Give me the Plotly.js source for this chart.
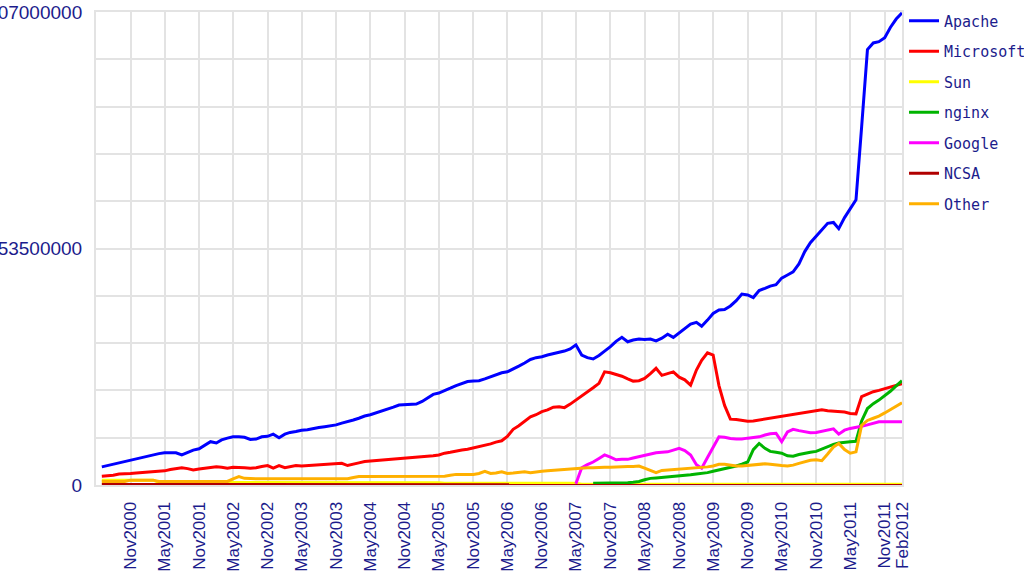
<!DOCTYPE html>
<html>
<head>
<meta charset="utf-8">
<script src="https://cdn.plot.ly/plotly-3.0.1.min.js"></script>
<style>
  html, body { margin: 0; padding: 0; background: #fff; }
  #chart { width: 1024px; height: 576px; }
</style>
</head>
<body>
<div id="chart"></div>
<script>
// Active sites per web server, monthly, June 2000 to February 2012 (millions)
const FIRST_YEAR = 2000, FIRST_MONTH = 6, MONTH_COUNT = 141;
const months = [];
for (let k = 0; k < MONTH_COUNT; k++) {
    const m = FIRST_MONTH - 1 + k;
    const y = FIRST_YEAR + Math.floor(m / 12);
    months.push(y + '-' + String(m % 12 + 1).padStart(2, '0') + '-01');
}

const seriesNames = ['Apache', 'Microsoft', 'Sun', 'nginx', 'Google', 'NCSA', 'Other'];
const seriesColors = ['#0000ff', '#ff0000', '#ffff00', '#00b400', '#ff00ff', '#b00000', '#ffb000'];

const apache = [
    4.1, 4.4, 4.7, 5.0, 5.4, 5.7, 5.9, 6.2, 6.5, 6.8,
    7.1, 7.3, 7.3, 7.3, 6.8, 7.4, 7.9, 8.2, 9.0, 9.8,
    9.5, 10.2, 10.6, 10.9, 10.9, 10.8, 10.3, 10.4, 10.9, 11.0,
    11.5, 10.7, 11.5, 11.9, 12.1, 12.4, 12.5, 12.8, 13.0, 13.2,
    13.4, 13.6, 14.0, 14.3, 14.7, 15.1, 15.6, 15.9, 16.3, 16.7,
    17.2, 17.6, 18.1, 18.2, 18.3, 18.3, 18.9, 19.6, 20.5, 20.8,
    21.3, 21.9, 22.5, 23.0, 23.4, 23.5, 23.6, 24.0, 24.5, 24.9,
    25.4, 25.6, 26.2, 26.9, 27.6, 28.4, 28.8, 29.0, 29.4, 29.7,
    30.0, 30.3, 30.8, 31.7, 29.4, 28.8, 28.5, 29.3, 30.3, 31.3,
    32.5, 33.4, 32.4, 32.8, 33.0, 32.9, 33.0, 32.6, 33.2, 34.1,
    33.4, 34.4, 35.4, 36.4, 36.8, 35.9, 37.3, 38.8, 39.6, 39.7,
    40.5, 41.7, 43.2, 43.0, 42.4, 44.0, 44.5, 45.0, 45.3, 46.8,
    47.5, 48.2, 50.0, 52.8, 54.8, 56.3, 57.8, 59.2, 59.4, 58.0,
    60.5, 62.4, 64.5, 81.0, 98.5, 100.0, 100.3, 101.2, 103.5, 105.4, 106.8
];

const microsoft = [
    2.0, 2.1, 2.2, 2.5, 2.5, 2.6, 2.7, 2.8, 2.9, 3.0,
    3.1, 3.2, 3.5, 3.7, 3.9, 3.7, 3.4, 3.6, 3.8, 4.0,
    4.1, 4.0, 3.8, 4.0, 4.0, 3.9, 3.8, 3.9, 4.2, 4.4,
    3.8, 4.4, 3.9, 4.1, 4.4, 4.3, 4.4, 4.5, 4.6, 4.7,
    4.8, 4.9, 4.9, 4.4, 4.8, 5.0, 5.3, 5.4, 5.5, 5.6,
    5.8, 5.9, 6.0, 6.1, 6.1, 6.2, 6.3, 6.4, 6.6, 6.8,
    7.2, 7.4, 7.7, 7.9, 8.1, 8.4, 8.6, 8.9, 9.3, 9.7,
    10.0, 11.0, 12.6, 13.4, 14.5, 15.4, 15.9, 16.6, 17.0, 17.6,
    17.7, 17.5, 18.3, 19.2, 20.0, 21.1, 22.0, 23.0, 25.6, 25.4,
    25.0, 24.6, 24.0, 23.5, 23.6, 24.1, 25.2, 26.4, 24.8, 25.2,
    25.6, 24.4, 23.8, 22.6, 26.0, 28.2, 29.9, 29.4, 22.5, 18.0,
    14.9, 14.8, 14.6, 14.4, 14.5, 14.7, 15.0, 15.1, 15.3, 15.6,
    15.7, 15.9, 16.1, 16.3, 16.6, 16.8, 17.0, 16.8, 16.7, 16.6,
    16.5, 16.2, 16.1, 20.0, 20.6, 21.1, 21.4, 21.8, 22.2, 22.6, 22.9
];

const sun = [
    1.1, 1.1, 1.1, 1.1, 1.1, 1.1, 1.1, 1.1, 1.1, 1.1,
    0.6, 0.6, 0.6, 0.6, 0.6, 0.6, 0.6, 0.6, 0.6, 0.6,
    0.6, 0.6, 0.6, 0.6, 0.6, 0.6, 0.6, 0.6, 0.6, 0.6,
    0.5, 0.5, 0.5, 0.5, 0.5, 0.5, 0.5, 0.5, 0.5, 0.5,
    0.5, 0.5, 0.5, 0.5, 0.5, 0.5, 0.5, 0.5, 0.5, 0.5,
    0.5, 0.5, 0.5, 0.5, 0.5, 0.5, 0.5, 0.5, 0.5, 0.5,
    0.4, 0.4, 0.4, 0.4, 0.4, 0.4, 0.4, 0.4, 0.4, 0.4,
    0.4, 0.4, 0.4, 0.4, 0.4, 0.4, 0.4, 0.4, 0.4, 0.4,
    0.4, 0.4, 0.4, 0.4, 0.15, 0.15, 0.15, 0.15, 0.15, 0.15,
    0.15, 0.15, 0.15, 0.15, 0.15, 0.15, 0.15, 0.15, 0.15, 0.15,
    0.15, 0.15, 0.15, 0.15, 0.15, 0.15, 0.15, 0.15, 0.15, 0.15,
    0.15, 0.15, 0.15, 0.15, 0.15, 0.15, 0.15, 0.15, 0.15, 0.15,
    0.15, 0.15, 0.15, 0.15, 0.15, 0.15, 0.15, 0.15, 0.15, 0.15,
    0.15, 0.15, 0.15, 0.15, 0.15, 0.15, 0.15, 0.15, 0.15, 0.15, 0.15
];

// nginx is only listed from August 2007
const nginx = [
    0.4, 0.4, 0.4, 0.4,
    0.4, 0.4, 0.5, 0.6, 0.8, 1.2, 1.5, 1.6, 1.7, 1.8,
    1.9, 2.0, 2.1, 2.3, 2.5, 2.6, 2.8, 3.1, 3.4, 3.6,
    4.0, 4.3, 4.7, 5.2, 8.0, 9.4, 8.3, 7.6, 7.4, 7.2,
    6.6, 6.5, 6.9, 7.2, 7.4, 7.6, 8.1, 8.7, 9.2, 9.5,
    9.7, 9.8, 9.9, 14.5, 17.3, 18.4, 19.2, 20.2, 21.2, 22.4, 23.6
];

// Google is only listed from May 2007
const google = [
    0.3, 3.9, 4.6, 5.2, 6.0, 6.8, 6.3,
    5.7, 5.8, 5.8, 6.1, 6.4, 6.6, 7.0, 7.3, 7.4, 7.5,
    7.9, 8.3, 7.8, 6.8, 4.6, 3.8, 6.2, 8.5, 10.9, 10.8,
    10.5, 10.4, 10.4, 10.6, 10.8, 10.9, 11.3, 11.6, 11.7, 9.8,
    12.0, 12.6, 12.3, 12.1, 11.8, 11.9, 12.2, 12.5, 12.7, 11.5,
    12.4, 12.8, 13.0, 13.3, 13.6, 14.0, 14.3, 14.3, 14.3, 14.3, 14.3
];

const ncsa = [
    0.1, 0.1, 0.1, 0.1, 0.1, 0.1, 0.1, 0.1, 0.1, 0.1,
    0.1, 0.1, 0.1, 0.1, 0.1, 0.1, 0.1, 0.1, 0.1, 0.1,
    0.1, 0.1, 0.1, 0.1, 0.1, 0.1, 0.1, 0.1, 0.1, 0.1,
    0.1, 0.1, 0.1, 0.1, 0.1, 0.1, 0.1, 0.1, 0.1, 0.1,
    0.1, 0.1, 0.1, 0.1, 0.1, 0.1, 0.1, 0.1, 0.1, 0.1,
    0.1, 0.1, 0.1, 0.1, 0.1, 0.1, 0.1, 0.1, 0.1, 0.1,
    0.05, 0.05, 0.05, 0.05, 0.05, 0.05, 0.05, 0.05, 0.05, 0.05,
    0.05, 0.05, 0.05, 0.05, 0.05, 0.05, 0.05, 0.05, 0.05, 0.05,
    0.05, 0.05, 0.05, 0.05, 0.05, 0.05, 0.05, 0.05, 0.05, 0.05,
    0.05, 0.05, 0.05, 0.05, 0.05, 0.05, 0.05, 0.05, 0.05, 0.05,
    0.05, 0.05, 0.05, 0.05, 0.05, 0.05, 0.05, 0.05, 0.05, 0.05,
    0.05, 0.05, 0.05, 0.05, 0.05, 0.05, 0.05, 0.05, 0.05, 0.05,
    0.05, 0.05, 0.05, 0.05, 0.05, 0.05, 0.05, 0.05, 0.05, 0.05,
    0.05, 0.05, 0.05, 0.05, 0.05, 0.05, 0.05, 0.05, 0.05, 0.05, 0.05
];

const other = [
    0.8, 0.8, 0.8, 0.8, 0.8, 1.1, 1.1, 1.1, 1.1, 1.1,
    0.8, 0.8, 0.8, 0.8, 0.8, 0.8, 0.8, 0.8, 0.8, 0.8,
    0.8, 0.8, 0.8, 1.4, 1.9, 1.5, 1.4, 1.4, 1.4, 1.4,
    1.4, 1.4, 1.4, 1.4, 1.4, 1.3, 1.4, 1.4, 1.4, 1.4,
    1.4, 1.4, 1.4, 1.4, 1.7, 1.9, 1.9, 1.9, 1.9, 1.9,
    1.9, 1.9, 1.9, 1.9, 1.9, 1.9, 1.9, 1.9, 1.9, 1.9,
    2.0, 2.2, 2.4, 2.4, 2.4, 2.4, 2.6, 3.1, 2.6, 2.7,
    3.0, 2.6, 2.7, 2.9, 3.0, 2.8, 3.0, 3.1, 3.2, 3.3,
    3.4, 3.5, 3.6, 3.8, 3.8, 3.9, 3.9, 4.0, 4.0, 4.0,
    4.1, 4.1, 4.2, 4.2, 4.3, 3.8, 3.2, 2.8, 3.3, 3.4,
    3.5, 3.5, 3.6, 3.8, 3.8, 3.9, 4.1, 4.3, 4.7, 4.7,
    4.5, 4.3, 4.3, 4.4, 4.5, 4.6, 4.8, 4.7, 4.5, 4.4,
    4.3, 4.5, 4.9, 5.2, 5.6, 5.7, 5.5, 7.0, 8.6, 9.4,
    8.0, 7.2, 7.5, 13.5, 14.6, 15.1, 15.6, 16.3, 17.0, 17.8, 18.6
];

const seriesValues = [apache, microsoft, sun, nginx, google, ncsa, other];

// x tick labels, every six months plus the last month
const xTickVals = ['2000-11-01', '2001-05-01', '2001-11-01', '2002-05-01', '2002-11-01',
    '2003-05-01', '2003-11-01', '2004-05-01', '2004-11-01', '2005-05-01', '2005-11-01',
    '2006-05-01', '2006-11-01', '2007-05-01', '2007-11-01', '2008-05-01', '2008-11-01',
    '2009-05-01', '2009-11-01', '2010-05-01', '2010-11-01', '2011-05-01', '2011-11-01',
    '2012-02-01'];
const xTickText = ['Nov2000', 'May2001', 'Nov2001', 'May2002', 'Nov2002', 'May2003',
    'Nov2003', 'May2004', 'Nov2004', 'May2005', 'Nov2005', 'May2006', 'Nov2006',
    'May2007', 'Nov2007', 'May2008', 'Nov2008', 'May2009', 'Nov2009', 'May2010',
    'Nov2010', 'May2011', 'Nov2011', 'Feb2012'];

// y grid every 10.7 million, labelled only at 0, half and top
const yTickVals = [0, 10.7, 21.4, 32.1, 42.8, 53.5, 64.2, 74.9, 85.6, 96.3, 107];
const yTickText = ['0', '', '', '', '', '53500000', '', '', '', '', '107000000'];

const INK = '#1c1c8c';
const GRID = '#e3e3e3';

const traces = seriesNames.map((name, k) => {
    const vals = seriesValues[k];
    return {
        x: months.slice(months.length - vals.length),
        y: vals,
        type: 'scatter',
        mode: 'lines',
        name: name,
        legendgroup: name,
        line: { color: seriesColors[k], width: 3 },
        hoverinfo: 'skip'
    };
});

const layout = {
    width: 1024,
    height: 576,
    margin: { l: 96, r: 122, t: 12, b: 91, autoexpand: false },
    paper_bgcolor: '#ffffff',
    plot_bgcolor: '#ffffff',
    font: { family: 'Liberation Sans, Arial, sans-serif', color: INK },
    showlegend: true,
    legend: {
        x: 1.0025,
        xanchor: 'left',
        y: 1.016,
        yanchor: 'top',
        bgcolor: 'rgba(0,0,0,0)',
        tracegroupgap: 8,
        font: { family: 'DejaVu Sans Mono, monospace', size: 15, color: INK }
    },
    xaxis: {
        type: 'date',
        range: ['2000-05-01', '2012-02-01'],
        tickmode: 'array',
        tickvals: xTickVals,
        ticktext: xTickText,
        tickangle: -90,
        ticks: 'outside',
        ticklen: 8,
        tickcolor: 'rgba(0,0,0,0)',
        tickfont: { size: 17, color: INK },
        showgrid: true,
        gridcolor: GRID,
        gridwidth: 2,
        showline: true,
        linecolor: GRID,
        linewidth: 2,
        mirror: true,
        zeroline: false,
        automargin: false,
        fixedrange: true
    },
    yaxis: {
        range: [0, 107],
        tickmode: 'array',
        tickvals: yTickVals,
        ticktext: yTickText,
        ticks: 'outside',
        ticklen: 8,
        tickcolor: 'rgba(0,0,0,0)',
        tickfont: { size: 19, color: INK },
        showgrid: true,
        gridcolor: GRID,
        gridwidth: 2,
        showline: true,
        linecolor: GRID,
        linewidth: 2,
        mirror: true,
        zeroline: false,
        automargin: false,
        fixedrange: true
    }
};

Plotly.newPlot('chart', traces, layout, { displayModeBar: false, staticPlot: true });
</script>
</body>
</html>
